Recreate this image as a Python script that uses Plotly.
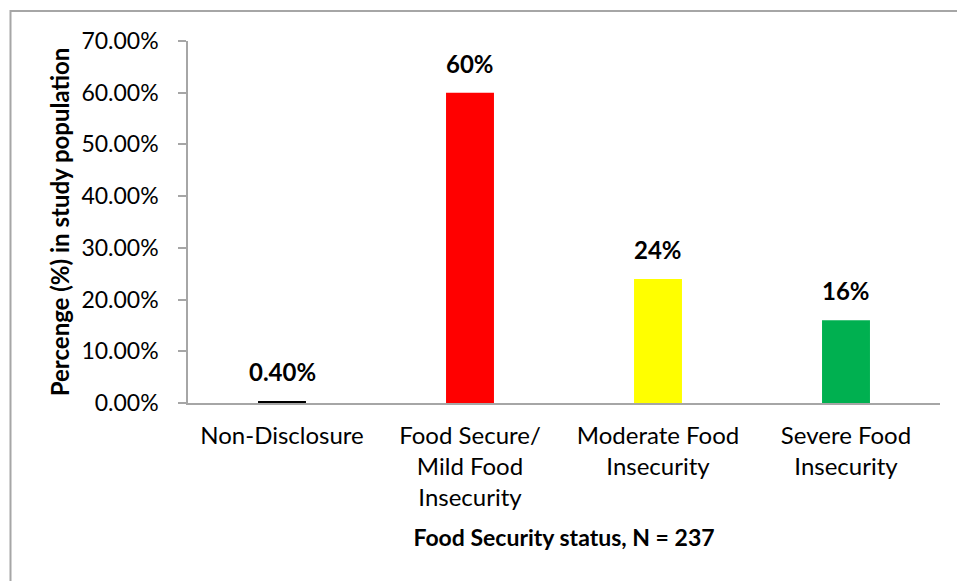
import plotly.graph_objects as go

categories = ["Non-Disclosure", "Food Secure/<br>Mild Food<br>Insecurity",
              "Moderate Food<br>Insecurity", "Severe Food<br>Insecurity"]
values = [0.004, 0.60, 0.24, 0.16]
value_labels = ["0.40%", "60%", "24%", "16%"]
bar_colors = ["#000000", "#FF0000", "#FFFF00", "#00B050"]
y_ticks = [0, 0.1, 0.2, 0.3, 0.4, 0.5, 0.6, 0.7]

W, H = 957, 581
L, R, T, B = 188, 17, 41, 178
pw, ph = W - L - R, H - T - B

fig = go.Figure()
fig.add_trace(go.Bar(
    x=categories, y=values, marker_color=bar_colors, marker_line_width=0,
    width=0.255, hoverinfo="skip",
))

for c, v, lab in zip(categories, values, value_labels):
    fig.add_annotation(x=c, y=v, text=f"<b>{lab}</b>", showarrow=False,
                       yanchor="bottom", yshift=13,
                       font=dict(family="Lato", size=24, color="#000000"))

def px_to_paper_x(p):
    return (p - L) / pw

def px_to_paper_y(p):
    return (H - B - p) / ph

fig.add_shape(type="rect", xref="paper", yref="paper",
              x0=px_to_paper_x(10.5), x1=px_to_paper_x(1000),
              y0=px_to_paper_y(700), y1=px_to_paper_y(11),
              line=dict(color="#A6A6A6", width=2), fillcolor="rgba(0,0,0,0)",
              layer="below")

fig.update_layout(
    width=W, height=H,
    margin=dict(l=L, r=R, t=T, b=B, pad=0),
    paper_bgcolor="white", plot_bgcolor="white",
    showlegend=False,
    bargap=0.745,
    xaxis=dict(
        showline=True, linecolor="#A6A6A6", linewidth=1.5,
        ticks="", showgrid=False, zeroline=False,
        tickfont=dict(family="Lato", size=24, color="#000000"),
        ticklabelstandoff=10,
        title=dict(text="<b>Food Security status, N = 237</b>",
                   font=dict(family="Lato", size=23, color="#000000"),
                   standoff=20),
    ),
    yaxis=dict(
        range=[0, 0.7], tickvals=y_ticks, tickformat=".2%",
        showline=True, linecolor="#A6A6A6", linewidth=1.5,
        ticks="outside", ticklen=8, tickcolor="#A6A6A6", tickwidth=1.5,
        showgrid=False, zeroline=False,
        tickfont=dict(family="Lato", size=23, color="#000000"),
        ticklabelstandoff=15,
        title=dict(text="<b>Percenge (%) in study population</b>",
                   font=dict(family="Lato", size=24, color="#000000"),
                   standoff=5),
    ),
)

fig.write_html("out.html")
